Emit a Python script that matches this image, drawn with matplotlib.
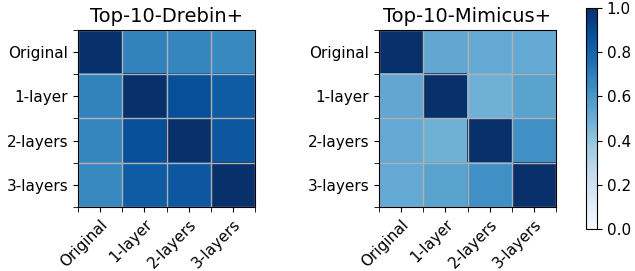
import numpy as np
import matplotlib
import matplotlib.pyplot as plt

matplotlib.use('agg')

labels = ["Original", "1-layer", "2-layers", "3-layers"]
titles = ["Top-10-Drebin+", "Top-10-Mimicus+"]

drebin = np.array([
    [1.00, 0.68, 0.67, 0.66],
    [0.68, 1.00, 0.88, 0.83],
    [0.67, 0.88, 1.00, 0.85],
    [0.66, 0.83, 0.85, 1.00],
])
mimicus = np.array([
    [1.00, 0.53, 0.52, 0.52],
    [0.53, 1.00, 0.49, 0.55],
    [0.52, 0.49, 1.00, 0.63],
    [0.52, 0.55, 0.63, 1.00],
])

fig = plt.figure(figsize=(6.35, 2.71), dpi=100)
# axes positions in figure fractions
ax1 = fig.add_axes([78 / 635, 64 / 271, 177 / 635, 177 / 271])
ax2 = fig.add_axes([379 / 635, 64 / 271, 177 / 635, 177 / 271])
cax = fig.add_axes([586 / 635, 42 / 271, 11 / 635, 221 / 271])

for ax, mat, title in zip([ax1, ax2], [drebin, mimicus], titles):
    im = ax.imshow(mat, cmap='Blues', vmin=0, vmax=1, aspect='auto')
    n = len(labels)
    ax.set_xticks(np.arange(n))
    ax.set_yticks(np.arange(n))
    ax.set_xticklabels(labels, rotation=45, ha='right', rotation_mode='anchor',
                       fontsize=11)
    ax.set_yticklabels(labels, fontsize=11)
    # grid on cell borders
    ax.set_xticks(np.arange(-0.5, n, 1), minor=True)
    ax.set_yticks(np.arange(-0.5, n, 1), minor=True)
    ax.grid(which='minor', color='#b0b0b0', linewidth=1)
    ax.tick_params(which='minor', length=3.5)
    ax.tick_params(which='major', length=3.5)
    ax.set_xlim(-0.5, n - 0.5)
    ax.set_ylim(n - 0.5, -0.5)
    ax.set_title(title, fontsize=14)

cb = fig.colorbar(im, cax=cax)
cb.set_ticks([0, 0.2, 0.4, 0.6, 0.8, 1.0])
cb.ax.tick_params(labelsize=11)

plt.savefig('out.png', dpi=100)
